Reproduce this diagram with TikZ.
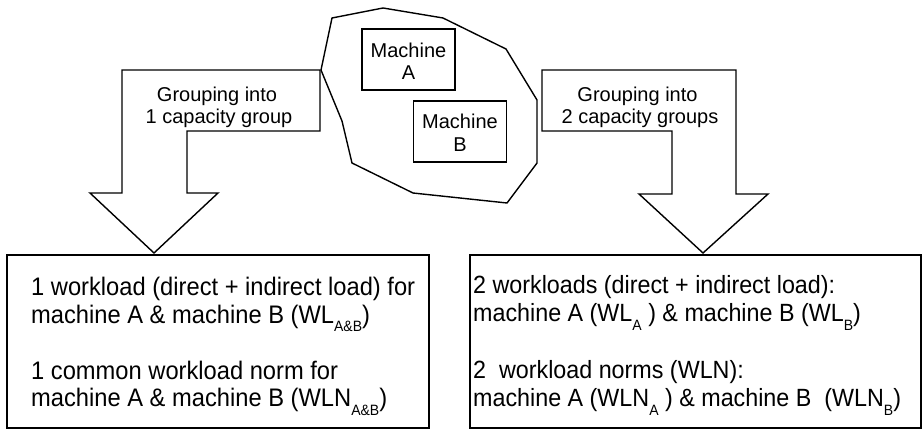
\documentclass[tikz,border=0pt]{standalone}
\usepackage{fontspec}
\usepackage{graphicx}
\setmainfont{Liberation Sans}
% lowered small subscript for the workload symbols
\newcommand{\sbs}[1]{\raisebox{-0.34em}{\fontsize{14}{14}\selectfont #1}}
% slightly tall lettering of the result panels
\newcommand{\tallr}[1]{\scalebox{1}[1.07]{#1}}
\begin{document}
\begin{tikzpicture}[x=1pt,y=-1pt,
  outline/.style={draw=black, line width=1.4pt, line join=miter},
  panel/.style={draw=black, line width=1.8pt, inner sep=0pt},
  machine/.style={draw=black, line width=1.4pt, inner sep=0pt, minimum width=93pt, minimum height=61pt},
  label/.style={inner sep=0pt, anchor=base, font=\fontsize{20}{22}\selectfont},
  body/.style={inner sep=0pt, anchor=base west, font=\fontsize{23.3}{26}\selectfont},
  bodyl/.style={body, font=\fontsize{23.7}{26}\selectfont}]
\useasboundingbox (0,0) rectangle (923,430);

% left block arrow: one capacity group
\draw[outline] (122,70) -- (320,70) -- (320,131) -- (187,131) -- (187,193)
  -- (218,193) -- (154,253) -- (90,193) -- (122,193) -- cycle;
\node[label] (l1) at (217,102) {Grouping into};
\node[label] (l2) at (219,124) {1 capacity group};

% right block arrow: two capacity groups
\draw[outline] (542,70) -- (736,70) -- (736,194) -- (768,194) -- (703,253)
  -- (639,194) -- (672,194) -- (672,131) -- (542,131) -- cycle;
\node[label] (r1) at (637.5,102) {Grouping into};
\node[label] (r2) at (640,124) {2 capacity groups};

% the shop: both machines inside one outline
\draw[outline] (332,18) -- (383,8) -- (443,18) -- (506,49) -- (537,100)
  -- (537,163) -- (507,203) -- (413,193) -- (352,163) -- (342,121)
  -- (321,70) -- cycle;
\node[machine] (ma) at (408.5,59.5) {};
\node[label] (ma1) at (408.5,57.5) {Machine};
\node[label] (ma2) at (408.5,80) {A};
\node[machine] (mb) at (460,131.5) {};
\node[label] (mb1) at (460,128.3) {Machine};
\node[label] (mb2) at (460,151.7) {B};

% result panels
\node[panel, minimum width=422pt, minimum height=173pt] (pl) at (218,341.5) {};
\node[panel, minimum width=451pt, minimum height=173pt] (pr) at (695.5,341.5) {};

\node[bodyl] (pl1) at (31,295) {\tallr{1 workload (direct + indirect load) for}};
\node[bodyl] (pl2) at (31,323.3) {\tallr{machine A \& machine B (WL\sbs{A\&B})}};
\node[bodyl] (pl3) at (31,379) {\tallr{1 common workload norm for}};
\node[bodyl] (pl4) at (31,406.7) {\tallr{machine A \& machine B (WLN\sbs{A\&B})}};

\node[body] (pr1) at (473,293.3) {\tallr{2 workloads (direct + indirect load):}};
\node[body] (pr2) at (473,321.7) {\tallr{machine A (WL\sbs{A} ) \& machine B (WL\sbs{B})}};
\node[body] (pr3) at (473,378.3) {\tallr{2 \ workload norms (WLN):}};
\node[body] (pr4) at (473,406.7) {\tallr{machine A (WLN\sbs{A} ) \& machine B \ (WLN\sbs{B})}};
\end{tikzpicture}
\end{document}
